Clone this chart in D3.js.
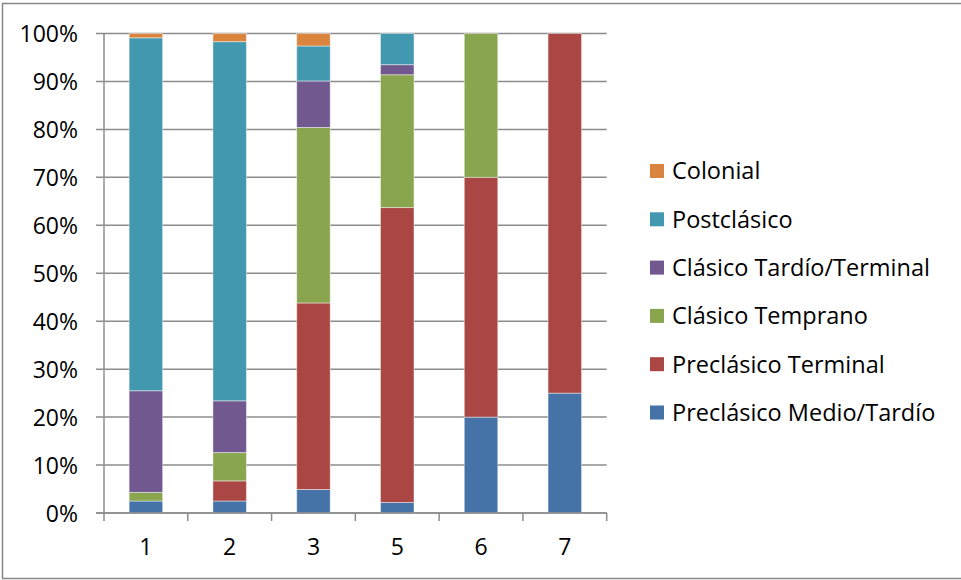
<!DOCTYPE html>
<html>
<head>
<meta charset="utf-8">
<script src="https://cdn.jsdelivr.net/npm/d3@7"></script>
<style>
  body { margin: 0; background: #fff; overflow: hidden; }
  text { font-family: "Open Sans", Lato, sans-serif; fill: #000; }
</style>
</head>
<body>
<svg id="chart" width="961" height="580"></svg>
<script>
// categories on the x axis
var categories = ["1", "2", "3", "5", "6", "7"];

// series, bottom to top of each stack (percent)
var seriesNames = ["Preclásico Medio/Tardío", "Preclásico Terminal", "Clásico Temprano",
                   "Clásico Tardío/Terminal", "Postclásico", "Colonial"];
var preclasicoMedio   = [2.5, 2.5, 4.9, 2.2, 20, 25];
var preclasicoTerm    = [0, 4.2, 38.9, 61.5, 50, 75];
var clasicoTemprano   = [1.8, 5.9, 36.6, 27.7, 30, 0];
var clasicoTardio     = [21.2, 10.8, 9.7, 2.1, 0, 0];
var postclasico       = [73.6, 74.9, 7.3, 6.5, 0, 0];
var colonial          = [0.9, 1.7, 2.6, 0, 0, 0];
var seriesValues = [preclasicoMedio, preclasicoTerm, clasicoTemprano, clasicoTardio, postclasico, colonial];

var colors = ["#4572A7", "#AA4643", "#89A54E", "#71588F", "#4198AF", "#DB843D"];
var yTicks = [0, 10, 20, 30, 40, 50, 60, 70, 80, 90, 100];

var svg = d3.select("#chart");

// outer border of the chart (right edge falls outside the picture)
svg.append("rect")
   .attr("x", 2.5).attr("y", 3.5)
   .attr("width", 970).attr("height", 575)
   .attr("fill", "none")
   .attr("stroke", "#868686")
   .attr("stroke-width", 1.5);

var MARGINS = { top: 33.5, bottom: 513, left: 104, right: 606.7 };

var xScale = d3.scaleBand().domain(categories).range([MARGINS.left, MARGINS.right]),
    yScale = d3.scaleLinear().domain([0, 100]).range([MARGINS.bottom, MARGINS.top]);

// gridlines (incl. the tick that sticks out left of the axis)
svg.append("g").selectAll("line")
   .data(yTicks)
   .enter().append("line")
   .attr("x1", MARGINS.left - 8)
   .attr("x2", MARGINS.right)
   .attr("y1", function(d) { return yScale(d); })
   .attr("y2", function(d) { return yScale(d); })
   .attr("stroke", "#8c8c8c")
   .attr("stroke-width", 1.5);

// y axis labels
var yAxis = d3.axisLeft(yScale)
   .tickValues(yTicks)
   .tickSize(0)
   .tickPadding(26)
   .tickFormat(function(d) { return d + "%"; });
var gy = svg.append("g")
   .attr("transform", "translate(" + MARGINS.left + ",0)")
   .call(yAxis);
gy.select(".domain").remove();
gy.selectAll("text").style("font-size", "23px").attr("dy", "0.36em");

// stacked data
var rows = categories.map(function(c, i) {
   var r = { cat: c };
   seriesNames.forEach(function(s, k) { r[s] = seriesValues[k][i]; });
   return r;
});
var stacked = d3.stack().keys(seriesNames)(rows);

var bw = xScale.bandwidth() * 0.4;
svg.append("g").selectAll("g")
   .data(stacked)
   .enter().append("g")
   .attr("fill", function(d, i) { return colors[i]; })
   .selectAll("rect")
   .data(function(d) { return d.filter(function(p) { return p[1] - p[0] > 0; }); })
   .enter().append("rect")
   .attr("x", function(d) { return xScale(d.data.cat) + xScale.bandwidth() * 0.3; })
   .attr("width", bw)
   .attr("y", function(d) { return yScale(d[1]); })
   .attr("height", function(d) { return yScale(d[0]) - yScale(d[1]); })
   .attr("stroke", "#ffffff")
   .attr("stroke-opacity", 0.45)
   .attr("stroke-width", 1);

// y axis line
svg.append("line")
   .attr("x1", MARGINS.left).attr("x2", MARGINS.left)
   .attr("y1", MARGINS.top).attr("y2", MARGINS.bottom)
   .attr("stroke", "#8c8c8c").attr("stroke-width", 1.5);

// x axis: line with ticks at band boundaries
var gx = svg.append("g").attr("transform", "translate(0," + MARGINS.bottom + ")");
gx.append("line")
   .attr("x1", MARGINS.left - 8).attr("x2", MARGINS.right)
   .attr("stroke", "#8c8c8c").attr("stroke-width", 1.5);
var bounds = categories.map(function(c) { return xScale(c); }).concat([MARGINS.right]);
gx.selectAll("line.tick")
   .data(bounds)
   .enter().append("line")
   .attr("class", "tick")
   .attr("x1", function(d) { return d; }).attr("x2", function(d) { return d; })
   .attr("y1", 0).attr("y2", 8)
   .attr("stroke", "#8c8c8c").attr("stroke-width", 1.5);
gx.selectAll("text")
   .data(categories)
   .enter().append("text")
   .attr("x", function(d) { return xScale(d) + xScale.bandwidth() / 2; })
   .attr("y", 42)
   .attr("text-anchor", "middle")
   .style("font-size", "23px")
   .text(function(d) { return d; });

// legend, top entry = last series
var legendOrder = seriesNames.slice().reverse();
var legend = svg.append("g").attr("transform", "translate(650,164)");
var item = legend.selectAll("g")
   .data(legendOrder)
   .enter().append("g")
   .attr("transform", function(d, i) { return "translate(0," + (i * 48.3) + ")"; });
item.append("rect")
   .attr("width", 14).attr("height", 14)
   .attr("fill", function(d) { return colors[seriesNames.indexOf(d)]; });
item.append("text")
   .attr("x", 22).attr("y", 7).attr("dy", "0.36em")
   .style("font-size", "23.5px")
   .text(function(d) { return d; });
</script>
</body>
</html>
